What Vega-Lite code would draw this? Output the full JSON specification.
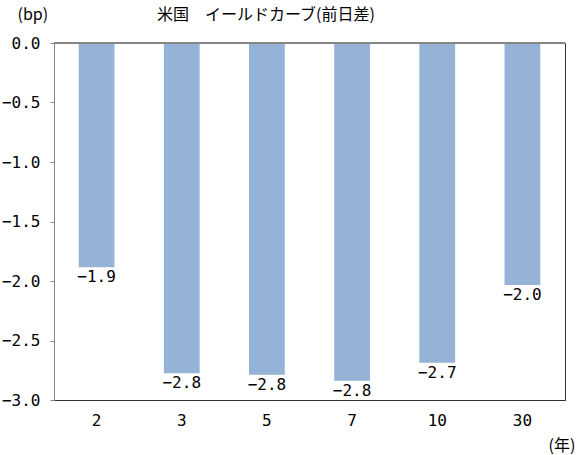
{
  "$schema": "https://vega.github.io/schema/vega-lite/v6.json",
  "autosize": "none",
  "width": 511,
  "height": 357,
  "padding": {"left": 54, "top": 43, "right": 20, "bottom": 55},
  "background": "white",
  "config": {
    "view": {"stroke": "#333333", "strokeWidth": 1},
    "font": "DejaVu Sans Mono"
  },
  "title": {
    "text": "米国　イールドカーブ(前日差)",
    "font": "Noto Sans CJK JP",
    "fontSize": 16,
    "fontWeight": "normal",
    "color": "#000000",
    "anchor": "start",
    "frame": "group",
    "dx": 103,
    "offset": -17
  },
  "data": {
    "values": [
      {"maturity": "2", "change": -1.885},
      {"maturity": "3", "change": -2.776},
      {"maturity": "5", "change": -2.787},
      {"maturity": "7", "change": -2.838},
      {"maturity": "10", "change": -2.686},
      {"maturity": "30", "change": -2.034}
    ]
  },
  "encoding": {
    "x": {
      "field": "maturity",
      "type": "nominal",
      "sort": null,
      "scale": {"paddingInner": 0.58, "paddingOuter": 0.29},
      "axis": {
        "title": "(年)",
        "titleFont": "Noto Sans CJK JP",
        "titleFontSize": 16,
        "titleFontWeight": "normal",
        "titleColor": "#000000",
        "titleX": 494,
        "titleY": 50,
        "titleAlign": "left",
        "titleBaseline": "alphabetic",
        "labelAngle": 0,
        "labelFont": "DejaVu Sans Mono",
        "labelFontSize": 16,
        "labelColor": "#000000",
        "labelPadding": 12,
        "ticks": false,
        "domainColor": "#333333",
        "grid": false
      }
    },
    "y": {
      "field": "change",
      "type": "quantitative",
      "scale": {"domain": [-3, 0], "nice": false},
      "axis": {
        "title": "(bp)",
        "titleFont": "Noto Sans CJK JP",
        "titleFontSize": 16,
        "titleFontWeight": "normal",
        "titleColor": "#000000",
        "titleAngle": 0,
        "titleX": -37,
        "titleY": -24,
        "titleAlign": "left",
        "titleBaseline": "alphabetic",
        "values": [-3, -2.5, -2, -1.5, -1, -0.5, 0],
        "format": ".1f",
        "labelFont": "DejaVu Sans Mono",
        "labelFontSize": 16,
        "labelColor": "#000000",
        "labelPadding": 10,
        "tickSize": 4,
        "tickColor": "#868686",
        "domainColor": "#868686",
        "grid": false
      }
    }
  },
  "layer": [
    {
      "mark": {"type": "bar", "color": "#95B3D7"}
    },
    {
      "mark": {"type": "text", "baseline": "top", "dy": 2, "font": "DejaVu Sans Mono", "fontSize": 16, "color": "#000000"},
      "encoding": {
        "text": {"field": "change", "type": "quantitative", "format": ".1f"}
      }
    },
    {
      "mark": {"type": "rule", "color": "#868686", "strokeWidth": 1},
      "encoding": {"y": {"datum": 0}, "x": {"value": 0}, "x2": {"value": 511}}
    }
  ]
}
